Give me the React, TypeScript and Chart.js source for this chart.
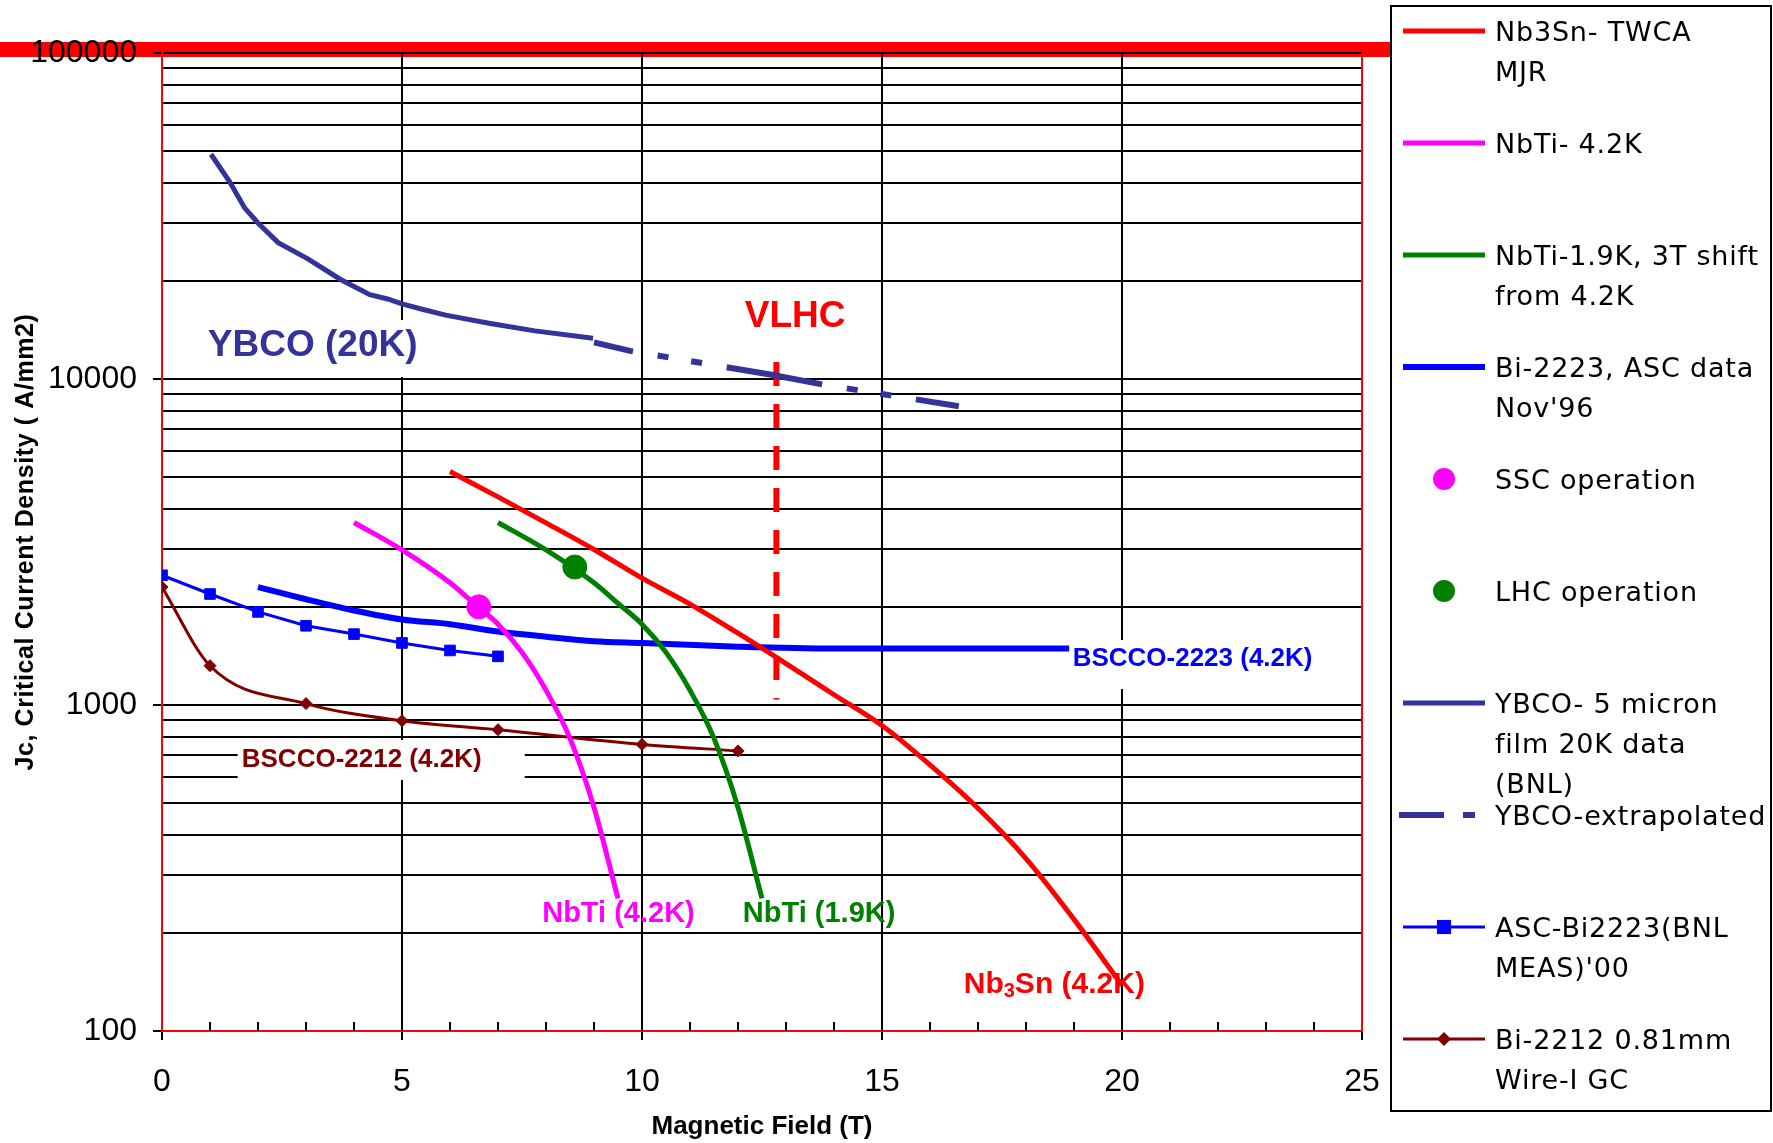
import React, { useEffect, useRef } from 'react';
import { Chart, registerables } from 'chart.js';

Chart.register(...registerables);

// ---------------- data ----------------
const nb3snField = [6, 7, 8, 9, 10, 11, 12, 13, 14, 15, 16, 17, 18, 19, 20];
const nb3snJc = [5200, 4350, 3620, 3000, 2450, 2040, 1660, 1340, 1075, 865, 655, 482, 338, 220, 138];

const nbti42Field = [4, 5, 6, 6.5, 7, 7.5, 8, 8.5, 9, 9.5];
const nbti42Jc = [3630, 2990, 2370, 2050, 1770, 1450, 1110, 790, 485, 255];

const nbti19Field = [7, 8, 9, 9.5, 10, 10.5, 11, 11.5, 12, 12.5];
const nbti19Jc = [3630, 2990, 2370, 2050, 1770, 1450, 1110, 790, 485, 255];

const bi2223Field = [2, 3, 4, 5, 6, 7, 8, 9, 10, 12, 14, 16, 18.9];
const bi2223Jc = [2300, 2110, 1950, 1830, 1770, 1680, 1620, 1570, 1550, 1510, 1490, 1490, 1490];

const sscField = [6.6];
const sscJc = [2000];

const lhcField = [8.6];
const lhcJc = [2650];

const ybcoField = [1.02, 1.4, 1.72, 2.0, 2.42, 3.03, 3.72, 4.33, 4.7, 5.0, 5.4, 5.91, 6.84, 7.77, 8.98];
const ybcoJc = [48900, 40500, 33500, 30100, 26200, 23400, 20200, 18150, 17600, 17000, 16400, 15700, 14800, 14050, 13340];

const ybcoExtField = [9, 9.75, 12.7, 13.8, 16.6];
const ybcoExtJc = [12950, 12200, 10300, 9600, 8250];

const ascField = [0, 1, 2, 3, 4, 5, 6, 7];
const ascJc = [2500, 2190, 1930, 1750, 1650, 1550, 1470, 1410];

const bi2212Field = [0, 1, 3, 5, 7, 10, 12];
const bi2212Jc = [2300, 1320, 1010, 895, 840, 757, 723];

const vlhcField = [12.8, 12.8];
const vlhcJc = [11270, 1040];

const xTickValues = [0, 5, 10, 15, 20, 25];
const yTickValues = [
  100, 200, 300, 400, 500, 600, 700, 800, 900,
  1000, 2000, 3000, 4000, 5000, 6000, 7000, 8000, 9000,
  10000, 20000, 30000, 40000, 50000, 60000, 70000, 80000, 90000,
  100000,
];
const yLabelledTicks = [100, 1000, 10000, 100000];

const legendNb3Sn = ['Nb3Sn- TWCA', 'MJR'];
const legendNbTi42 = ['NbTi- 4.2K'];
const legendNbTi19 = ['NbTi-1.9K, 3T shift', 'from 4.2K'];
const legendBi2223 = ['Bi-2223, ASC data', "Nov'96"];
const legendSSC = ['SSC operation'];
const legendLHC = ['LHC operation'];
const legendYBCO = ['YBCO- 5 micron', 'film 20K data', '(BNL)'];
const legendYBCOExt = ['YBCO-extrapolated'];
const legendASC = ['ASC-Bi2223(BNL', "MEAS)'00"];
const legendBi2212 = ['Bi-2212 0.81mm', 'Wire-I GC'];

const xTitle = 'Magnetic Field (T)';
const yTitle = 'Jc, Critical Current Density ( A/mm2)';

// ---------------- styling ----------------
const FONT = '"Liberation Sans", Arial, sans-serif';
const LEGEND_FONT = '"DejaVu Sans", Verdana, sans-serif';
const NAVY = '#333399';

type Note = {
  text: string;
  sub?: [string, string, string];
  x: number;
  y: number;
  color: string;
  size: number;
  box?: [number, number, number, number];
};

const notes: Note[] = [
  { text: 'YBCO (20K)', x: 3.14, y: 12620, color: NAVY, size: 37, box: [-118, -26, 154, 31] },
  { text: 'VLHC', x: 13.19, y: 15500, color: '#ff0000', size: 37 },
  { text: 'BSCCO-2212 (4.2K)', x: 4.16, y: 678, color: '#800000', size: 26, box: [-124, -20, 163, 20] },
  { text: 'BSCCO-2223 (4.2K)', x: 21.47, y: 1384, color: '#0000ff', size: 26, box: [-125, -19, 125, 30] },
  { text: 'NbTi (4.2K)', x: 9.51, y: 229, color: '#ff00ff', size: 29 },
  { text: 'NbTi (1.9K)', x: 13.69, y: 229, color: '#008000', size: 29 },
  { text: '', sub: ['Nb', '3', 'Sn (4.2K)'], x: 18.59, y: 139, color: '#ff0000', size: 30 },
];

const LEG = { left: 1391, top: 6, right: 1771, bottom: 1111, row0: 34, step: 112, lineGap: 40, s0: 1403, s1: 1485, textX: 1495 };

const pts = (xs: number[], ys: number[]) => xs.map((x, i) => ({ x, y: ys[i] }));

function drawMarker(ctx: CanvasRenderingContext2D, style: string, x: number, y: number, r: number, color: string) {
  ctx.save();
  ctx.fillStyle = color;
  ctx.beginPath();
  if (style === 'rect') {
    const s = r * Math.SQRT1_2;
    ctx.rect(x - s, y - s, 2 * s, 2 * s);
  } else if (style === 'rectRot') {
    ctx.moveTo(x, y - r);
    ctx.lineTo(x + r, y);
    ctx.lineTo(x, y + r);
    ctx.lineTo(x - r, y);
    ctx.closePath();
  } else {
    ctx.arc(x, y, r, 0, Math.PI * 2);
  }
  ctx.fill();
  ctx.restore();
}

const overlay = {
  id: 'overlay',
  beforeDraw(chart: any) {
    const { ctx, chartArea } = chart;
    ctx.save();
    ctx.fillStyle = '#ffffff';
    ctx.fillRect(0, 0, chart.width, chart.height);
    ctx.fillStyle = '#ff0000';
    ctx.fillRect(0, chartArea.top - 11, LEG.left, 15);
    ctx.restore();
  },
  beforeDatasetsDraw(chart: any) {
    const { ctx, chartArea, scales } = chart;
    const xs = scales.x;
    const ys = scales.y;
    ctx.save();
    // white boxes behind annotation labels
    ctx.fillStyle = '#ffffff';
    for (const n of notes) {
      if (!n.box) continue;
      const cx = xs.getPixelForValue(n.x);
      const cy = ys.getPixelForValue(n.y);
      ctx.fillRect(cx + n.box[0], cy + n.box[1], n.box[2] - n.box[0], n.box[3] - n.box[1]);
    }
    // minor ticks on the x axis, pointing into the plot
    ctx.strokeStyle = '#000';
    ctx.lineWidth = 2;
    for (let v = 1; v < 25; v++) {
      const px = Math.round(xs.getPixelForValue(v));
      ctx.beginPath();
      ctx.moveTo(px, chartArea.bottom);
      ctx.lineTo(px, chartArea.bottom - 9);
      ctx.stroke();
    }
    // right red frame
    ctx.strokeStyle = '#ff0000';
    ctx.lineWidth = 2;
    ctx.beginPath();
    ctx.moveTo(chartArea.right, chartArea.top);
    ctx.lineTo(chartArea.right, chartArea.bottom);
    ctx.stroke();
    ctx.restore();
  },
  afterDatasetsDraw(chart: any) {
    const { ctx, chartArea, scales } = chart;
    const xs = scales.x;
    const ys = scales.y;
    ctx.save();
    // annotation labels
    ctx.textBaseline = 'middle';
    for (const n of notes) {
      const cx = xs.getPixelForValue(n.x);
      const cy = ys.getPixelForValue(n.y);
      ctx.fillStyle = n.color;
      if (n.sub) {
        const big = `bold ${n.size}px ${FONT}`;
        const small = `bold ${Math.round(n.size * 0.68)}px ${FONT}`;
        ctx.font = big;
        const w0 = ctx.measureText(n.sub[0]).width;
        const w2 = ctx.measureText(n.sub[2]).width;
        ctx.font = small;
        const w1 = ctx.measureText(n.sub[1]).width;
        let x = cx - (w0 + w1 + w2) / 2;
        ctx.textAlign = 'left';
        ctx.font = big;
        ctx.fillText(n.sub[0], x, cy);
        x += w0;
        ctx.font = small;
        ctx.fillText(n.sub[1], x, cy + n.size * 0.25);
        x += w1;
        ctx.font = big;
        ctx.fillText(n.sub[2], x, cy);
      } else {
        ctx.font = `bold ${n.size}px ${FONT}`;
        ctx.textAlign = 'center';
        ctx.fillText(n.text, cx, cy);
      }
    }
    // axis titles
    ctx.fillStyle = '#000';
    ctx.font = `bold 26px ${FONT}`;
    ctx.textAlign = 'center';
    ctx.fillText(xTitle, (chartArea.left + chartArea.right) / 2, 1127);
    ctx.save();
    ctx.translate(26, (chartArea.top + chartArea.bottom) / 2);
    ctx.rotate(-Math.PI / 2);
    ctx.font = `bold 25px ${FONT}`;
    (ctx as any).letterSpacing = '0.6px';
    ctx.fillText(yTitle, 0, 0);
    ctx.restore();

    // legend
    ctx.strokeStyle = '#000';
    ctx.lineWidth = 2;
    ctx.strokeRect(LEG.left, LEG.top, LEG.right - LEG.left, LEG.bottom - LEG.top);
    const ds = chart.data.datasets.filter((d: any) => d.legendLines);
    ds.forEach((d: any, i: number) => {
      const y = LEG.row0 + LEG.step * i;
      const ly = y - 3;
      if (d.showLine !== false) {
        ctx.save();
        ctx.strokeStyle = d.borderColor;
        ctx.lineWidth = d.legendWidth || d.borderWidth;
        ctx.setLineDash(d.legendDash || []);
        ctx.beginPath();
        ctx.moveTo(d.legendDash ? LEG.s0 - 4 : LEG.s0, ly);
        ctx.lineTo(LEG.s1, ly);
        ctx.stroke();
        ctx.restore();
      }
      if (d.legendMarker) {
        drawMarker(ctx, d.pointStyle || 'circle', (LEG.s0 + LEG.s1) / 2, ly, d.legendMarker, d.pointBackgroundColor || d.borderColor);
      }
      ctx.save();
      ctx.fillStyle = '#000';
      ctx.font = `27px ${LEGEND_FONT}`;
      (ctx as any).letterSpacing = '0.8px';
      ctx.textAlign = 'left';
      ctx.textBaseline = 'middle';
      d.legendLines.forEach((t: string, k: number) => {
        ctx.fillText(t, LEG.textX, y + k * LEG.lineGap);
      });
      ctx.restore();
    });
    ctx.restore();
  },
};

export default function App() {
  const ref = useRef<HTMLCanvasElement>(null);

  useEffect(() => {
    const canvas = ref.current;
    if (!canvas) return;
    const line = (color: string, width: number) => ({
      borderColor: color,
      backgroundColor: color,
      borderWidth: width,
      pointRadius: 0,
      pointHoverRadius: 0,
      fill: false,
    });
    const chart = new Chart(canvas, {
      type: 'line',
      data: {
        datasets: [
          { label: 'Nb3Sn', data: pts(nb3snField, nb3snJc), ...line('#ff0000', 5), cubicInterpolationMode: 'monotone', legendLines: legendNb3Sn } as any,
          { label: 'NbTi 4.2K', data: pts(nbti42Field, nbti42Jc), ...line('#ff00ff', 5), cubicInterpolationMode: 'monotone', legendLines: legendNbTi42 } as any,
          { label: 'NbTi 1.9K', data: pts(nbti19Field, nbti19Jc), ...line('#008000', 5), cubicInterpolationMode: 'monotone', legendLines: legendNbTi19 } as any,
          { label: 'Bi-2223', data: pts(bi2223Field, bi2223Jc), ...line('#0000ff', 6), cubicInterpolationMode: 'monotone', legendLines: legendBi2223 } as any,
          { label: 'SSC', data: pts(sscField, sscJc), showLine: false, pointRadius: 12, pointBackgroundColor: '#ff00ff', pointBorderColor: '#ff00ff', borderColor: '#ff00ff', order: -1, legendLines: legendSSC, legendMarker: 11 } as any,
          { label: 'LHC', data: pts(lhcField, lhcJc), showLine: false, pointRadius: 12, pointBackgroundColor: '#008000', pointBorderColor: '#008000', borderColor: '#008000', order: -1, legendLines: legendLHC, legendMarker: 11 } as any,
          { label: 'YBCO', data: pts(ybcoField, ybcoJc), ...line(NAVY, 5), legendLines: legendYBCO } as any,
          { label: 'YBCO-extrapolated', data: pts(ybcoExtField, ybcoExtJc), ...line(NAVY, 6), borderDash: [97, 25, 11, 23, 11, 25], borderDashOffset: 57, borderCapStyle: 'butt', legendLines: legendYBCOExt, legendDash: [45, 19, 12, 200] } as any,
          { label: 'ASC-Bi2223', data: pts(ascField, ascJc), ...line('#0000ff', 3), pointStyle: 'rect', pointRadius: 7.5, pointBackgroundColor: '#0000ff', pointBorderColor: '#0000ff', pointBorderWidth: 1, legendLines: legendASC, legendMarker: 10 } as any,
          { label: 'Bi-2212', data: pts(bi2212Field, bi2212Jc), ...line('#800000', 3), cubicInterpolationMode: 'monotone', pointStyle: 'rectRot', pointRadius: 6, pointBackgroundColor: '#800000', pointBorderColor: '#800000', pointBorderWidth: 1, legendLines: legendBi2212, legendMarker: 7 } as any,
          { label: 'VLHC', data: pts(vlhcField, vlhcJc), ...line('#ff0000', 6), borderDash: [24, 18], borderCapStyle: 'butt' } as any,
        ],
      },
      options: {
        responsive: false,
        devicePixelRatio: 1,
        animation: false,
        events: [],
        layout: { padding: { left: 0, right: 411, top: 53, bottom: 0 } },
        plugins: { legend: { display: false }, tooltip: { enabled: false }, title: { display: false } },
        elements: { line: { tension: 0 } },
        scales: {
          x: {
            type: 'linear',
            min: 0,
            max: 25,
            afterBuildTicks: (s: any) => {
              s.ticks = xTickValues.map((v) => ({ value: v }));
            },
            afterFit: (s: any) => {
              s.height = 112;
            },
            grid: {
              color: (c: any) => (c.tick && (c.tick.value === 0 || c.tick.value === 25) ? 'rgba(0,0,0,0)' : '#000'),
              lineWidth: 2,
              tickLength: 9,
              tickColor: '#000',
              tickWidth: 2,
            },
            border: { display: true, color: '#ff0000', width: 2 },
            ticks: { autoSkip: false, maxRotation: 0, padding: 23, color: '#000', font: { family: FONT, size: 32 } },
          },
          y: {
            type: 'logarithmic',
            min: 100,
            max: 100000,
            afterBuildTicks: (s: any) => {
              s.ticks = yTickValues.map((v) => ({ value: v, major: false }));
            },
            afterFit: (s: any) => {
              s.width = 162;
            },
            grid: {
              color: '#000',
              lineWidth: 2,
              tickLength: 9,
              tickWidth: 2,
              tickColor: (c: any) => (c.tick && yLabelledTicks.includes(c.tick.value) ? '#000' : 'rgba(0,0,0,0)'),
            },
            border: { display: true, color: '#ff0000', width: 2 },
            ticks: {
              autoSkip: false,
              padding: 16,
              color: '#000',
              font: { family: FONT, size: 32 },
              callback: (v: any) => (yLabelledTicks.includes(Number(v)) ? String(v) : ''),
            },
          },
        },
      } as any,
      plugins: [overlay],
    });
    return () => chart.destroy();
  }, []);

  return (
    <div style={{ position: 'absolute', left: 0, top: 0, width: 1773, height: 1143, background: '#fff' }}>
      <canvas ref={ref} width={1773} height={1143} style={{ display: 'block', width: 1773, height: 1143 }} />
    </div>
  );
}
